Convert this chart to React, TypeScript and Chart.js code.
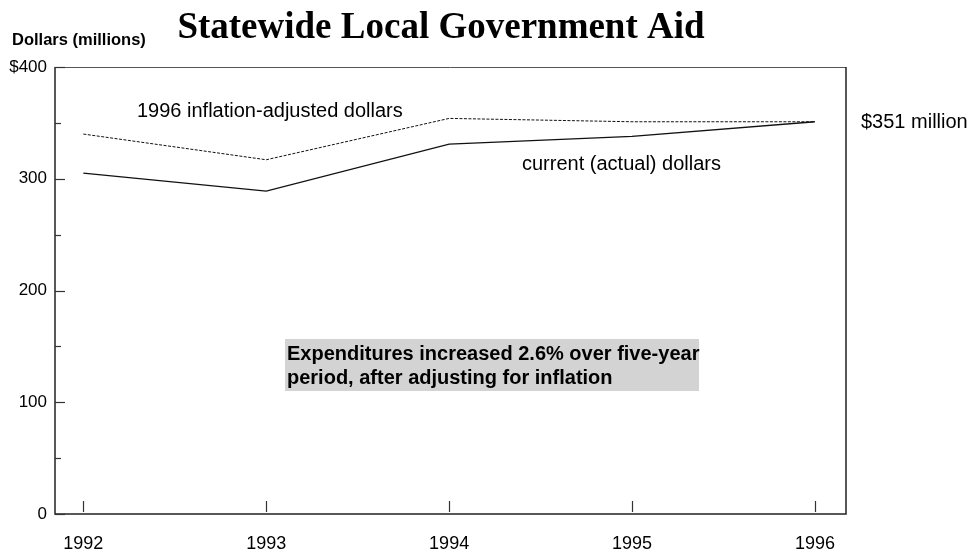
import React, { useEffect, useRef } from "react";
import { Chart, registerables } from "chart.js";

Chart.register(...registerables);

const years = [1992, 1993, 1994, 1995, 1996];
const inflationAdjusted = [340, 317, 354, 351, 351];
const currentDollars = [305, 289, 331, 338, 351];
const yTickValues = [0, 100, 200, 300, 400];
const yMinorStep = 50;

const SANS = "'Liberation Sans', Arial, sans-serif";
const SERIF = "'Liberation Serif', 'Times New Roman', serif";

const decorPlugin = {
  id: "decor",
  afterDraw(chart: any) {
    const ctx = chart.ctx as CanvasRenderingContext2D;
    const { left, right, top, bottom } = chart.chartArea;
    const xs = chart.scales.x;
    const ys = chart.scales.y;
    ctx.save();
    // frame
    ctx.strokeStyle = "#555";
    ctx.lineWidth = 1;
    ctx.beginPath();
    ctx.moveTo(left, top + 0.5);
    ctx.lineTo(right, top + 0.5);
    ctx.stroke();
    ctx.strokeStyle = "#222";
    ctx.lineWidth = 1.5;
    ctx.beginPath();
    ctx.moveTo(left, top);
    ctx.lineTo(left, bottom);
    ctx.lineTo(right, bottom);
    ctx.lineTo(right, top);
    ctx.stroke();
    // y ticks inward
    ctx.lineWidth = 1.2;
    ctx.strokeStyle = "#333";
    for (let v = ys.min; v <= ys.max; v += yMinorStep) {
      const y = Math.round(ys.getPixelForValue(v)) + 0.5;
      const major = v % 100 === 0;
      ctx.beginPath();
      ctx.moveTo(left, y);
      ctx.lineTo(left + (major ? 10 : 6), y);
      ctx.stroke();
    }
    // x ticks
    years.forEach((yr) => {
      const x = Math.round(xs.getPixelForValue(yr)) + 0.5;
      ctx.beginPath();
      ctx.moveTo(x, bottom - 2);
      ctx.lineTo(x, bottom - 13);
      ctx.stroke();
    });
    // texts
    ctx.fillStyle = "#000";
    ctx.textBaseline = "alphabetic";
    ctx.textAlign = "center";
    ctx.font = `bold 37px ${SERIF}`;
    ctx.fillText("Statewide Local Government Aid", 441, 38);
    ctx.textAlign = "left";
    ctx.font = `bold 16.5px ${SANS}`;
    ctx.fillText("Dollars (millions)", 12, 45);

    ctx.font = `20px ${SANS}`;
    ctx.fillText("1996 inflation-adjusted dollars", 137, 117);
    ctx.fillText("current (actual) dollars", 522, 170);
    const lastY = ys.getPixelForValue(inflationAdjusted[inflationAdjusted.length - 1]);
    ctx.fillText("$351 million", 861, lastY + 6);

    // note box
    ctx.fillStyle = "#d3d3d3";
    ctx.fillRect(285, 339, 414, 52);
    ctx.fillStyle = "#000";
    ctx.font = `bold 20px ${SANS}`;
    ctx.fillText("Expenditures increased 2.6% over five-year", 287, 360);
    ctx.fillText("period, after adjusting for inflation", 287, 384);
    ctx.restore();
  },
};

export default function App() {
  const ref = useRef<HTMLCanvasElement>(null);
  useEffect(() => {
    document.body.style.margin = "0";
    const chart = new Chart(ref.current!, {
      type: "line",
      data: {
        datasets: [
          {
            label: "1996 inflation-adjusted dollars",
            data: years.map((x, i) => ({ x, y: inflationAdjusted[i] })),
            borderColor: "#111",
            borderWidth: 1,
            borderDash: [3, 1.5],
            pointRadius: 0,
            tension: 0,
          },
          {
            label: "current (actual) dollars",
            data: years.map((x, i) => ({ x, y: currentDollars[i] })),
            borderColor: "#111",
            borderWidth: 1.3,
            pointRadius: 0,
            tension: 0,
          },
        ],
      },
      options: {
        responsive: false,
        animation: false,
        layout: { padding: { left: 0, top: 67, right: 126, bottom: 0 } },
        plugins: {
          legend: { display: false },
          title: { display: false },
          tooltip: { enabled: false },
        },
        scales: {
          x: {
            type: "linear",
            min: 1991.845,
            max: 1996.17,
            grid: { display: false, drawTicks: false },
            border: { display: false },
            afterBuildTicks: (s: any) => {
              s.ticks = years.map((v) => ({ value: v }));
            },
            afterFit: (s: any) => {
              s.height = 35;
            },
            ticks: {
              padding: 19,
              maxRotation: 0,
              color: "#000",
              font: { family: SANS, size: 18 },
              callback: (v: any) => String(v),
            },
          },
          y: {
            min: 0,
            max: 400,
            grid: { display: false, drawTicks: false },
            border: { display: false },
            afterBuildTicks: (s: any) => {
              s.ticks = yTickValues.map((v) => ({ value: v }));
            },
            afterFit: (s: any) => {
              s.width = 55;
            },
            ticks: {
              padding: 8,
              color: "#000",
              font: { family: SANS, size: 17 },
              callback: (v: any) => (v === 400 ? "$400" : String(v)),
            },
          },
        },
      },
      plugins: [decorPlugin],
    });
    return () => chart.destroy();
  }, []);
  return (
    <div style={{ position: "absolute", left: 0, top: 0, width: 972, height: 549, background: "#fff" }}>
      <canvas ref={ref} width={972} height={549} />
    </div>
  );
}
